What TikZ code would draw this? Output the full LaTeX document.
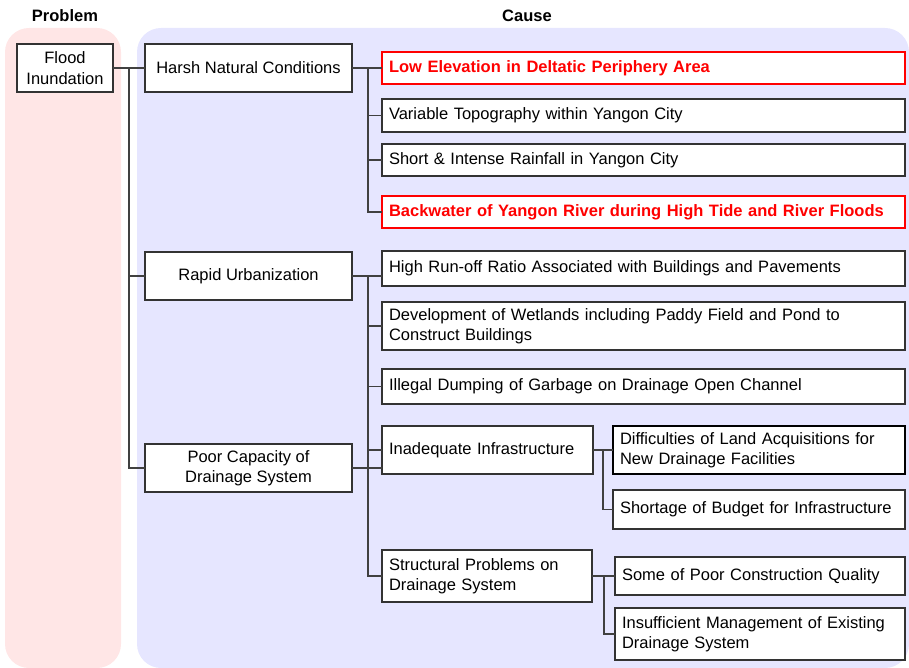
\documentclass[tikz,border=0pt]{standalone}
\usepackage{fontspec}
\setmainfont{Liberation Sans}
\usetikzlibrary{positioning}
\definecolor{problembg}{RGB}{255,230,230}
\definecolor{causebg}{RGB}{230,230,255}
\definecolor{hotred}{RGB}{255,0,0}

\begin{document}
\begin{tikzpicture}[x=1pt,y=1pt,
  box/.style={draw=black!80, fill=white, line width=1.1pt, outer sep=0pt, inner xsep=7pt, inner ysep=0pt, font=\fontsize{16.5}{20.5}\selectfont},
  mid/.style={box, align=center, minimum width=207pt, minimum height=48pt},
  cause/.style={box, align=left, text width=509pt, minimum height=#1},
  hot/.style={draw=hotred, text=hotred, line width=1.3pt, font=\fontsize{16.5}{20.5}\selectfont\bfseries},
  head/.style={font=\fontsize{16.5}{20}\selectfont\bfseries},
  link/.style={draw=black!75, line width=1.3pt}]
  \useasboundingbox (0,0) rectangle (909,-668);
  \fill[problembg, rounded corners=24pt] (5,-28) rectangle (121,-668);
  \fill[causebg, rounded corners=24pt] (137,-28) rectangle (909,-668);

  \node[head](problem) at (65,-16) {Problem};
  \node[head](causes) at (527,-16) {Cause};

  \node[box, align=center, minimum width=96pt, minimum height=48pt](flood) at (65,-68) {Flood\\Inundation};
  \node[mid](harsh)[right=32pt of flood]{Harsh Natural Conditions};
  \node[mid](rapid)[below=160pt of harsh]{Rapid Urbanization};
  \node[mid](poor)[below=144pt of rapid]{Poor Capacity of\\Drainage System};

  \node[cause=32pt, hot](low)[right=30pt of harsh]{Low Elevation in Deltatic Periphery Area};
  \node[cause=33pt](var)[below=15pt of low]{Variable Topography within Yangon City};
  \node[cause=32pt](short)[below=12pt of var]{Short \& Intense Rainfall in Yangon City};
  \node[cause=32pt, hot](back)[below=20pt of short]{Backwater of Yangon River during High Tide and River Floods};
  \node[cause=35pt](runoff)[below=23pt of back]{High Run-off Ratio Associated with Buildings and Pavements};
  \node[cause=48pt](devel)[below=16pt of runoff]{Development of Wetlands including Paddy Field and Pond to\\Construct Buildings};
  \node[cause=35pt](illegal)[below=19pt of devel]{Illegal Dumping of Garbage on Drainage Open Channel};
  \node[box, align=left, text width=197pt, minimum height=48pt](inadeq)[below=22pt of illegal.south west, anchor=north west]{Inadequate Infrastructure};
  \node[box, align=left, text width=196pt, minimum height=52pt](struct)[below=76pt of inadeq.south west, anchor=north west]{Structural Problems on\\Drainage System};

  \node[box, align=left, text width=278pt, minimum height=48pt, line width=1.6pt, draw=black](diff)[right=20pt of inadeq]{Difficulties of Land Acquisitions for\\New Drainage Facilities};
  \node[box, align=left, text width=278pt, minimum height=39pt](shortage)[below=16pt of diff]{Shortage of Budget for Infrastructure};
  \node[box, align=left, text width=276pt, minimum height=38pt](some)[right=23pt of struct]{Some of Poor Construction Quality};
  \node[box, align=left, text width=276pt, minimum height=52pt](insuff)[below=13pt of some]{Insufficient Management of Existing\\Drainage System};

  \draw[link] (flood.east) -- (harsh.west);
  \draw[link] (flood.east) ++(16,0) |- (rapid.west);
  \draw[link] (flood.east) ++(16,0) |- (poor.west);

  \draw[link] (harsh.east) -- (harsh.east -| low.west);
  \foreach \n in {var,short,back}
    \draw[link] (harsh.east) ++(16,0) |- (\n.west);

  \draw[link] (rapid.east) -- (rapid.east -| runoff.west);
  \foreach \n in {devel,illegal,inadeq}
    \draw[link] (rapid.east) ++(16,0) |- (\n.west);

  \draw[link] (poor.east) -- (poor.east -| inadeq.west);
  \draw[link] (poor.east) ++(16,0) |- (inadeq.west);
  \draw[link] (poor.east) ++(16,0) |- (struct.west);

  \draw[link] (inadeq.east) -- (diff.west);
  \draw[link] (inadeq.east) ++(10,0) |- (shortage.west);
  \draw[link] (struct.east) -- (struct.east -| some.west);
  \draw[link] (struct.east) ++(12,0) |- (insuff.west);
\end{tikzpicture}
\end{document}
